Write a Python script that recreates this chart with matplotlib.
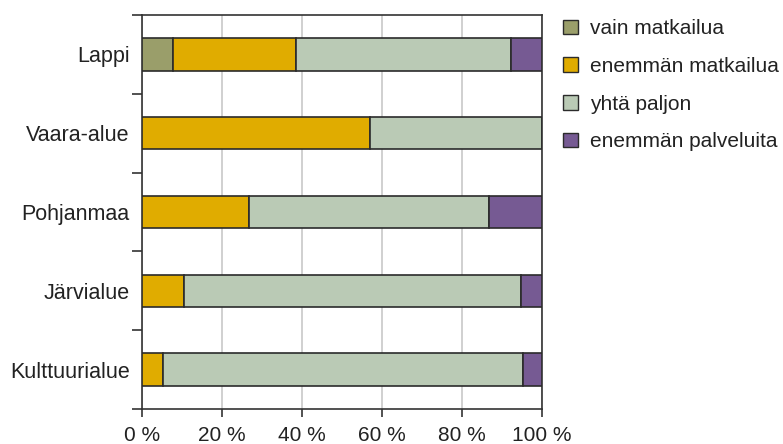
import numpy as np
import matplotlib.pyplot as plt
from matplotlib.patches import Patch

plt.rcParams['font.family'] = ['Liberation Sans', 'DejaVu Sans']

regions = ["Lappi", "Vaara-alue", "Pohjanmaa", "Järvialue", "Kulttuurialue"]
series = ["vain matkailua", "enemmän matkailua", "yhtä paljon", "enemmän palveluita"]
vain_matkailua = [7.7, 0.0, 0.0, 0.0, 0.0]
enemman_matkailua = [30.7, 57.1, 26.7, 10.5, 5.2]
yhta_paljon = [53.9, 42.9, 60.1, 84.2, 90.1]
enemman_palveluita = [7.7, 0.0, 13.2, 5.3, 4.7]
colors = ["#9a9e6a", "#e0ac00", "#bacab5", "#765a93"]
x_ticks = [0, 20, 40, 60, 80, 100]

fig = plt.figure(figsize=(7.83, 4.44), dpi=100)
ax = fig.add_axes([0.1814, 0.0788, 0.5108, 0.8874])

y = np.arange(len(regions))
left = np.zeros(len(regions))
for vals, col, name in zip(
        [vain_matkailua, enemman_matkailua, yhta_paljon, enemman_palveluita],
        colors, series):
    vals = np.array(vals)
    ax.barh(y, vals, left=left, height=0.41, color=col,
            edgecolor="#2b2b2b", linewidth=1.2, label=name, zorder=3)
    left += vals

ax.set_xlim(0, 100)
ax.set_ylim(len(regions) - 0.5, -0.5)

ax.set_xticks(x_ticks)
ax.set_xticklabels([f"{v} %" for v in x_ticks], fontsize=15, color="#222222")
ax.xaxis.grid(True, color="#c8c8c8", linewidth=1.2, zorder=0)

# category boundaries carry the tick marks, names sit at bar centres
ax.set_yticks(np.arange(len(regions) + 1) - 0.5)
ax.set_yticklabels([])
ax.set_yticks(y, minor=True)
ax.set_yticklabels(regions, minor=True, fontsize=15.5, color="#222222")
ax.tick_params(axis="y", which="major", length=7, width=1.2, color="#333333")
ax.tick_params(axis="y", which="minor", length=0, pad=9)
ax.tick_params(axis="x", length=6, width=1.2, color="#333333", pad=6)

for sp in ax.spines.values():
    sp.set_color("#333333")
    sp.set_linewidth(1.2)

handles = [Patch(facecolor=c, edgecolor="#2b2b2b", linewidth=1.0) for c in colors]
fig.legend(handles, series, loc="upper left", bbox_to_anchor=(0.719, 0.957),
           frameon=False, fontsize=15, handlelength=0.7, handleheight=0.7,
           handletextpad=0.6, labelspacing=0.9, borderaxespad=0,
           borderpad=0, labelcolor="#222222")

fig.savefig("out.png", dpi=100)
